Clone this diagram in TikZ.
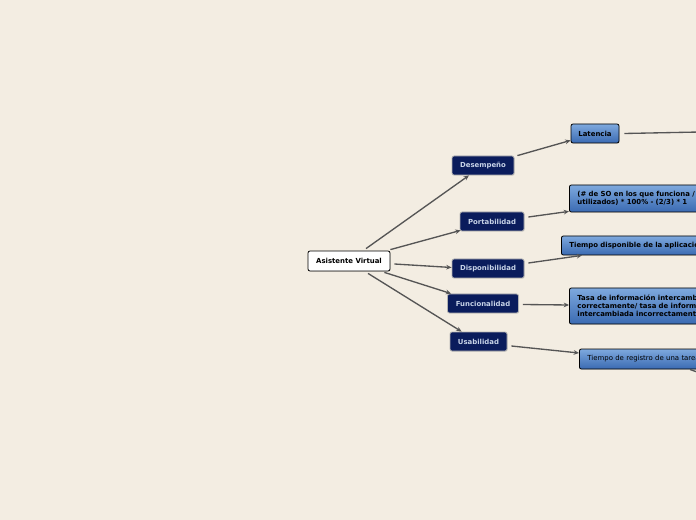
\documentclass[tikz,border=0pt]{standalone}
\usepackage{fontspec}
\setmainfont{DejaVu Sans}
\usetikzlibrary{shadows,arrows.meta,calc}

\definecolor{fondo}{RGB}{243,237,226}
\definecolor{marino}{RGB}{10,28,92}
\definecolor{textomarino}{RGB}{200,212,232}
\definecolor{azulclaro}{RGB}{126,169,222}
\definecolor{azuloscuro}{RGB}{58,106,178}
\definecolor{linea}{RGB}{85,85,85}

\tikzset{
  caja/.style={rounded corners=1.5pt, inner sep=0pt, minimum height=14.25pt,
    font=\fontsize{5.2}{6.2}\selectfont\bfseries,
    drop shadow={opacity=0.25, shadow xshift=0.5pt, shadow yshift=-0.5pt}},
  raiz/.style={caja, fill=white, draw=black, line width=0.6pt, minimum height=15pt},
  rama/.style={caja, fill=marino, draw=black!30, line width=0.6pt, text=textomarino},
  hoja/.style={caja, top color=azulclaro, bottom color=azuloscuro, draw=black,
    line width=0.6pt, anchor=west, align=left, inner xsep=6pt, text width=170pt},
  enlace/.style={draw=linea, line width=1pt, -{Stealth[length=4pt,width=3.5pt]}},
  tramo/.style={draw=linea, line width=1pt}
}

\begin{document}
\begin{tikzpicture}[x=0.75pt, y=-0.75pt]

  % Fondo y recorte
  \fill[fondo] (0,0) rectangle (696,520);
  \useasboundingbox (0,0) rectangle (696,520);
  \clip (0,0) rectangle (696,520);

  % Nodo central
  \node[raiz, minimum width=61.5pt] (asistente) at (349,261) {Asistente Virtual};

  % Atributos
  \node[rama, minimum width=46.5pt] (desempeno) at (483,165.5) {Desempeño};
  \node[rama, minimum width=48pt] (portabilidad) at (492,221.5) {Portabilidad};
  \node[rama, minimum width=54pt] (disponibilidad) at (488,268.5) {Disponibilidad};
  \node[rama, minimum width=53.25pt] (funcionalidad) at (483,303.5) {Funcionalidad};
  \node[rama, minimum width=42.75pt] (usabilidad) at (478.5,341.5) {Usabilidad};

  % Metricas
  \node[hoja, anchor=center, minimum width=36pt, inner xsep=0pt, text width=, align=center] (latencia) at (595,133.5) {Latencia};
  \node[hoja, minimum height=20.25pt] (portmetrica) at (569,198.5)
    {(\# de SO en los que funciona /\\utilizados) * 100\% - (2/3) * 1};
  \node[hoja] (dispmetrica) at (561,245.5)
    {Tiempo disponible de la aplicación};
  \node[hoja, minimum height=27pt] (funcmetrica) at (569,306)
    {Tasa de información intercambiada\\correctamente/ tasa de información\\intercambiada incorrectamente};
  \node[hoja, minimum height=15pt, font=\fontsize{5.2}{6.2}\selectfont] (usametrica) at (579,359)
    {Tiempo de registro de una tarea};

  % Conectores desde el nodo central
  \draw[enlace] ($(asistente.north)+(17,-2)$) -- ($(desempeno.south)+(-14,0)$);
  \draw[enlace] ($(asistente.north east)+(0,-1)$) -- ($(portabilidad.south west)+(1,-1)$);
  \draw[enlace] ($(asistente.east)+(4,3)$) -- ($(disponibilidad.west)+(0,-1)$);
  \draw[enlace] ($(asistente.south east)+(-6,1)$) -- ($(funcionalidad.north west)+(4,0)$);
  \draw[enlace] ($(asistente.south)+(19,2)$) -- ($(usabilidad.north west)+(12,0)$);

  % Conectores hacia las metricas
  \draw[enlace] ($(desempeno.north east)+(3,0)$) -- ($(latencia.south west)+(0,-3)$);
  \draw[enlace] ($(portabilidad.east)+(4,-4.5)$) -- ($(portmetrica.south west)+(0,-1)$);
  \draw[enlace] ($(disponibilidad.east)+(4,-5.5)$) -- ($(dispmetrica.south west)+(21,0)$);
  \draw[enlace] ($(funcionalidad.east)+(4,1)$) -- ($(funcmetrica.west)+(0,-1)$);
  \draw[enlace] ($(usabilidad.east)+(4,4.5)$) -- ($(usametrica.west)+(0,-6)$);

  % Tramos que salen del recorte
  \coordinate (latenciafin) at (700,132);
  \draw[tramo] ($(latencia.east)+(5,0)$) -- (latenciafin);
  \coordinate (usasale) at (690,369.5);
  \coordinate (usafin) at (700,373);
  \draw[tramo] (usasale) -- (usafin);

\end{tikzpicture}
\end{document}
